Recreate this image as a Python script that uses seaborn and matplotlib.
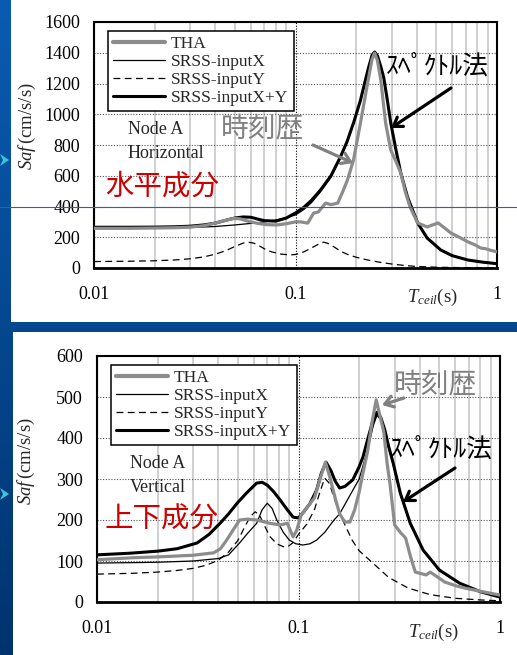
import numpy as np
import matplotlib
matplotlib.use("Agg")
import matplotlib.pyplot as plt
import seaborn as sns
from matplotlib.patches import Rectangle, Polygon
from matplotlib.lines import Line2D
from matplotlib.colors import LinearSegmentedColormap
from matplotlib.ticker import FixedLocator, FixedFormatter, NullFormatter, LogLocator

# ---------------- data ----------------
series_names = ["THA", "SRSS-inputX", "SRSS-inputY", "SRSS-inputX+Y"]
x_ticks = [0.01, 0.1, 1]
x_tick_labels = ["0.01", "0.1", "1"]
h_y_ticks = [0, 200, 400, 600, 800, 1000, 1200, 1400, 1600]
v_y_ticks = [0, 100, 200, 300, 400, 500, 600]

# Node A, horizontal component
h_xy_T = [0.010, 0.015, 0.020, 0.025, 0.030, 0.035, 0.040, 0.045, 0.050, 0.055,
          0.060, 0.065, 0.070, 0.080, 0.090, 0.100, 0.110, 0.120, 0.133, 0.150,
          0.167, 0.180, 0.194, 0.210, 0.218, 0.230, 0.240, 0.247, 0.255, 0.265,
          0.274, 0.285, 0.297, 0.315, 0.333, 0.360, 0.404, 0.450, 0.526, 0.600,
          0.717, 0.850, 1.000]
h_xy_S = [265, 265, 266, 268, 272, 280, 292, 310, 325, 332,
          330, 318, 308, 305, 325, 358, 395, 440, 507, 600,
          722, 820, 943, 1090, 1177, 1300, 1385, 1405, 1380, 1310,
          1240, 1100, 943, 770, 618, 460, 293, 195, 117, 80,
          52, 38, 28]

h_x_T = [0.010, 0.020, 0.030, 0.040, 0.050, 0.060, 0.070, 0.080, 0.090, 0.100,
         0.110, 0.120, 0.133, 0.150, 0.167, 0.180, 0.194, 0.210, 0.218, 0.230,
         0.240, 0.247, 0.255, 0.265, 0.274, 0.285, 0.297, 0.315, 0.333, 0.360,
         0.404, 0.450, 0.526, 0.600, 0.717, 0.850, 1.000]
h_x_S = [258, 260, 263, 270, 280, 290, 300, 312, 328, 345,
         380, 425, 495, 590, 715, 815, 938, 1085, 1170, 1293,
         1378, 1398, 1373, 1303, 1233, 1093, 937, 765, 613, 456,
         290, 192, 115, 78, 50, 36, 27]

h_y_T = [0.010, 0.015, 0.020, 0.025, 0.030, 0.035, 0.040, 0.045, 0.050, 0.055,
         0.058, 0.062, 0.066, 0.070, 0.076, 0.085, 0.094, 0.100, 0.110, 0.120,
         0.130, 0.138, 0.145, 0.155, 0.167, 0.180, 0.200, 0.228, 0.260, 0.300,
         0.350, 0.400, 0.500, 0.700, 1.000]
h_y_S = [42, 44, 47, 52, 60, 72, 90, 112, 140, 162,
         168, 162, 145, 125, 105, 90, 85, 88, 105, 130,
         155, 168, 160, 138, 110, 90, 70, 52, 38, 26,
         16, 10, 5, 2, 1]

h_tha_T = [0.010, 0.015, 0.020, 0.025, 0.030, 0.035, 0.040, 0.045, 0.049, 0.053,
           0.058, 0.065, 0.072, 0.081, 0.090, 0.100, 0.106, 0.115, 0.123, 0.130,
           0.141, 0.150, 0.162, 0.172, 0.181, 0.194, 0.210, 0.228, 0.240, 0.247,
           0.255, 0.265, 0.280, 0.297, 0.313, 0.333, 0.350, 0.370, 0.404, 0.450,
           0.510, 0.550, 0.590, 0.650, 0.720, 0.780, 0.830, 0.880, 0.930, 1.000]
h_tha_S = [258, 258, 260, 262, 266, 275, 292, 310, 322, 320,
           305, 290, 282, 280, 288, 300, 300, 292, 357, 365,
           422, 412, 422, 500, 572, 702, 943, 1203, 1360, 1398,
           1350, 1223, 943, 767, 702, 618, 500, 397, 293, 267,
           293, 260, 228, 200, 169, 150, 130, 125, 115, 105]

# Node A, vertical component
v_xy_T = [0.010, 0.0146, 0.020, 0.025, 0.0314, 0.036, 0.0408, 0.045, 0.0496, 0.055,
          0.062, 0.066, 0.070, 0.075, 0.081, 0.088, 0.094, 0.100, 0.105, 0.114,
          0.123, 0.130, 0.137, 0.145, 0.152, 0.160, 0.170, 0.186, 0.200, 0.209,
          0.220, 0.232, 0.245, 0.256, 0.268, 0.280, 0.295, 0.320, 0.358, 0.415,
          0.500, 0.630, 0.800, 1.000]
v_xy_S = [115, 119, 124, 130, 144, 165, 192, 215, 241, 265,
          290, 292, 285, 270, 249, 225, 207, 205, 217, 240,
          273, 315, 341, 320, 295, 278, 282, 298, 330, 354,
          395, 436, 463, 450, 420, 380, 339, 266, 193, 127,
          78, 46, 25, 12]

v_x_T = [0.010, 0.015, 0.020, 0.030, 0.040, 0.045, 0.051, 0.056, 0.062, 0.066,
         0.070, 0.074, 0.078, 0.084, 0.090, 0.097, 0.105, 0.114, 0.123, 0.135,
         0.150, 0.160, 0.180, 0.200, 0.220, 0.235, 0.245, 0.256, 0.268, 0.280,
         0.295, 0.320, 0.358, 0.415, 0.500, 0.630, 0.800, 1.000]
v_x_S = [95, 96, 97, 100, 106, 115, 144, 168, 192, 225,
         241, 228, 200, 170, 151, 142, 139, 142, 151, 170,
         200, 215, 260, 300, 370, 430, 455, 445, 415, 375,
         335, 262, 190, 125, 77, 45, 24, 12]

v_y_T = [0.010, 0.015, 0.020, 0.025, 0.030, 0.035, 0.040, 0.045, 0.050, 0.055,
         0.058, 0.061, 0.064, 0.068, 0.072, 0.078, 0.084, 0.088, 0.094, 0.100,
         0.110, 0.120, 0.128, 0.135, 0.142, 0.150, 0.160, 0.170, 0.185, 0.200,
         0.240, 0.280, 0.350, 0.450, 0.600, 0.800, 1.000]
v_y_S = [68, 70, 73, 77, 82, 90, 102, 122, 150, 190,
         210, 220, 212, 185, 160, 142, 135, 134, 145, 165,
         190, 225, 270, 302, 290, 255, 215, 188, 150, 125,
         90, 60, 34, 18, 9, 5, 3]

v_tha_T = [0.010, 0.015, 0.020, 0.030, 0.038, 0.041, 0.044, 0.048, 0.051, 0.056,
           0.062, 0.072, 0.081, 0.088, 0.091, 0.094, 0.098, 0.103, 0.110, 0.120,
           0.128, 0.136, 0.144, 0.152, 0.160, 0.170, 0.180, 0.190, 0.200, 0.210,
           0.220, 0.232, 0.243, 0.252, 0.265, 0.275, 0.285, 0.300, 0.320, 0.340,
           0.360, 0.380, 0.430, 0.450, 0.500, 0.530, 0.600, 0.670, 0.800, 1.000]
v_tha_S = [103, 108, 110, 114, 120, 130, 151, 180, 200, 202,
           200, 192, 188, 192, 175, 159, 175, 212, 230, 254,
           300, 341, 300, 254, 215, 195, 195, 225, 268, 320,
           366, 440, 493, 460, 415, 340, 285, 188, 170, 156,
           110, 73, 66, 73, 58, 49, 40, 34, 26, 17]

# ---------------- style ----------------
sns.set_style("white")
plt.rcParams["font.family"] = ["Liberation Serif", "DejaVu Serif"]
plt.rcParams["mathtext.fontset"] = "custom"
plt.rcParams["mathtext.rm"] = "Liberation Serif"
plt.rcParams["mathtext.it"] = "Liberation Serif:italic"
plt.rcParams["mathtext.bf"] = "Liberation Serif:bold"

CJK = ["Noto Sans CJK JP", "DejaVu Sans"]
GRAY = "#8c8c8c"
RED = "#cc0000"

W, H = 517, 655
fig = plt.figure(figsize=(W / 100, H / 100), dpi=100)


def fp(x, y):
    """pixel position (from top-left) -> figure fraction"""
    return (x / W, 1 - y / H)


# slide background with two white panels
bg = fig.add_axes([0, 0, 1, 1], zorder=-5)
grad = np.linspace(0, 1, 256)[:, None]
bg.imshow(grad, aspect="auto", extent=[0, 1, 0, 1], origin="upper",
          cmap=LinearSegmentedColormap.from_list("slide", ["#0a5cb2", "#00336e"]))
bg.add_patch(Rectangle(fp(11, 322), 1 - 11 / W, 322 / H, color="white", lw=0))
bg.add_patch(Rectangle(fp(13, 655), 1 - 13 / W, (655 - 332) / H, color="white", lw=0))
bg.set_xlim(0, 1)
bg.set_ylim(0, 1)
bg.axis("off")

# cyan bullet markers at the slide edge
for yc in (160, 494):
    pts = [fp(0, yc - 6), fp(9, yc), fp(0, yc + 6), fp(3, yc)]
    fig.add_artist(Polygon(pts, closed=True, transform=fig.transFigure,
                           color="#38c8d8", lw=0, zorder=3))


def draw_panel(ax, tha, sx, sy, sxy, yticks, ymax):
    sns.lineplot(x=sy[0], y=sy[1], ax=ax, color="black", lw=0.9,
                 linestyle=(0, (5.5, 3.5)), label=series_names[2], zorder=3)
    sns.lineplot(x=sx[0], y=sx[1], ax=ax, color="black", lw=0.9,
                 label=series_names[1], zorder=4)
    sns.lineplot(x=sxy[0], y=sxy[1], ax=ax, color="black", lw=2.2,
                 label=series_names[3], zorder=5)
    sns.lineplot(x=tha[0], y=tha[1], ax=ax, color=GRAY, lw=2.3,
                 label=series_names[0], zorder=6)
    ax.set_xscale("log")
    ax.set_xlim(0.01, 1)
    ax.set_ylim(0, ymax)

    ax.xaxis.set_major_locator(FixedLocator(x_ticks))
    ax.xaxis.set_major_formatter(FixedFormatter(x_tick_labels))
    ax.xaxis.set_minor_locator(LogLocator(base=10, subs=np.arange(2, 10)))
    ax.xaxis.set_minor_formatter(NullFormatter())
    ax.set_yticks(yticks)
    ax.set_yticklabels([str(v) for v in yticks])

    ax.grid(False)
    ax.grid(True, which="minor", axis="x", color="#c8c8c8", lw=1.2, ls="-", zorder=0)
    ax.grid(True, which="major", axis="x", color="black", lw=0.8, ls=(0, (1, 1.5)), zorder=0)
    ax.grid(True, which="major", axis="y", color="#555555", lw=0.8, ls=(0, (1, 1.5)), zorder=0)
    ax.set_axisbelow(True)

    ax.tick_params(axis="both", which="both", length=0, labelsize=13, colors="black")
    ax.tick_params(axis="x", which="major", pad=13)
    ax.tick_params(axis="y", which="major", pad=10)
    for s in ax.spines.values():
        s.set_visible(True)
        s.set_color("black")
        s.set_linewidth(1.5)
    ax.spines["bottom"].set_linewidth(2.0)

    ax.set_xlabel("")
    ax.set_ylabel(r"$Saf\,$(cm/s/s)", fontsize=13.5)

    handles, labels = ax.get_legend_handles_labels()
    order = [labels.index(n) for n in series_names]
    leg = ax.legend([handles[i] for i in order], [labels[i] for i in order],
                    loc="upper left", bbox_to_anchor=(0.034, 0.963),
                    fontsize=12.5, frameon=True, fancybox=False, framealpha=1,
                    edgecolor="black", borderpad=0.3, labelspacing=0.1,
                    handlelength=3.0, handletextpad=0.35, borderaxespad=0)
    leg.get_frame().set_linewidth(1.1)
    leg.set_zorder(10)
    for ln in leg.get_lines():
        if ln.get_color() == GRAY:
            ln.set_linewidth(3.0)


# ---- horizontal component ----
ax1 = fig.add_axes([94 / W, 1 - 268 / H, 403 / W, 246 / H])
draw_panel(ax1, (h_tha_T, h_tha_S), (h_x_T, h_x_S), (h_y_T, h_y_S),
           (h_xy_T, h_xy_S), h_y_ticks, 1600)
ax1.yaxis.set_label_coords(-0.139, 0.577)
ax1.text(0.839, -0.118, r"$T_{ceil}$(s)", transform=ax1.transAxes,
         ha="center", va="center", fontsize=13.5)

# ---- vertical component ----
ax2 = fig.add_axes([97 / W, 1 - 602 / H, 403 / W, 246 / H])
draw_panel(ax2, (v_tha_T, v_tha_S), (v_x_T, v_x_S), (v_y_T, v_y_S),
           (v_xy_T, v_xy_S), v_y_ticks, 600)
ax2.yaxis.set_label_coords(-0.149, 0.573)
ax2.text(0.834, -0.122, r"$T_{ceil}$(s)", transform=ax2.transAxes,
         ha="center", va="center", fontsize=13.5)

# ---- annotations ----
def label(x, y, s, **kw):
    fig.text(*fp(x, y), s, ha="left", va="center", zorder=12, **kw)


label(128, 129, "Node A", fontsize=13)
label(128, 153, "Horizontal", fontsize=13)
label(221, 128, "時刻歴", fontsize=20, color="#808080", family=CJK)
label(105, 187, "水平成分", fontsize=20.5, color=RED, family=CJK)
label(386, 67, "ｽﾍﾟｸﾄﾙ法", fontsize=18.5, color="black", family=CJK)

label(130, 463, "Node A", fontsize=13)
label(130, 487, "Vertical", fontsize=13)
label(105, 520, "上下成分", fontsize=20.5, color=RED, family=CJK)
label(394, 384, "時刻歴", fontsize=20, color="#808080", family=CJK)
label(390, 450, "ｽﾍﾟｸﾄﾙ法", fontsize=18.5, color="black", family=CJK)


def arrow(tail, tip, color):
    fig.add_artist(matplotlib.patches.FancyArrowPatch(
        fp(*tail), fp(*tip), transform=fig.transFigure,
        arrowstyle="->,head_length=6,head_width=4", lw=2.3, color=color,
        shrinkA=0, shrinkB=0, zorder=12))


arrow((451, 88), (391, 128), "black")
arrow((313, 145), (353, 163), "#808080")
arrow((404, 398), (382, 405), "#808080")
arrow((455, 468), (403, 502), "black")

# thin slide guide line across the upper panel
fig.add_artist(Line2D([0, 1], [1 - 207 / H] * 2, transform=fig.transFigure,
                      color="#2a64a8", lw=0.8, zorder=20))

fig.savefig("out.png", dpi=100)
